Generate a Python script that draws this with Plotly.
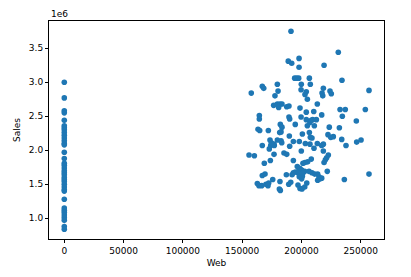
import plotly.graph_objects as go

# Points with Web == 0 (Sales in units of 1e6)
zero_sales = [3.0, 2.77, 2.58, 2.55, 2.44, 2.36, 2.33, 2.3, 2.26, 2.22, 2.18, 2.14,
              2.1, 2.08, 1.97, 1.88, 1.81, 1.78, 1.74, 1.7, 1.67, 1.64, 1.6, 1.57,
              1.54, 1.5, 1.46, 1.42, 1.4, 1.28, 1.15, 1.12, 1.09, 1.05, 1.01, 0.97,
              0.88, 0.84]

# Cluster points: Web (thousands) and Sales (1e6)
web_k = [191.2, 231.1, 188.9, 191.8, 198.0, 198.0, 219.1, 194.3, 196.0, 197.7, 206.7,
         199.9, 207.5, 234.2, 179.7, 218.5, 199.7, 204.1, 203.0, 205.0, 217.4, 218.0,
         224.1, 225.2, 257.0, 180.3, 177.7, 179.7, 181.9, 183.6, 187.6, 189.5, 213.4,
         198.8, 204.1, 210.4, 232.6, 237.0, 253.9, 234.5, 189.5, 190.1, 199.7, 217.1,
         204.1, 207.2, 208.3, 209.5, 212.6, 205.0, 210.9, 194.8, 182.2, 183.6, 182.8,
         246.3, 223.5, 232.0, 206.7, 207.5, 208.9, 200.8, 222.4, 224.7, 226.9, 189.8,
         234.0, 246.6, 250.3, 237.6, 173.5, 179.7, 182.8, 183.4, 193.2, 198.2, 203.3,
         207.2, 210.6, 213.4, 217.1, 218.5, 190.1, 174.1, 177.1, 199.9, 218.5, 185.3,
         187.6, 176.9, 222.7, 221.3, 220.2, 219.1, 173.8, 193.2, 208.3, 205.3, 203.0,
         201.3, 196.5, 197.7, 198.8, 200.2, 202.8, 197.1, 194.8, 193.2, 192.1, 221.8,
         206.4, 208.9, 211.2, 213.7, 214.8, 213.7, 215.7, 217.1, 187.3, 257.0, 236.2,
         175.8, 181.9, 189.3, 191.0, 198.2, 200.2, 200.8, 201.1, 197.1, 198.8, 200.5,
         202.8, 204.5, 182.2, 181.4, 157.7, 167.0, 168.2, 176.6, 180.8, 164.5, 164.5,
         163.4, 164.8, 172.1, 181.7, 174.6, 176.9, 172.9, 167.0, 155.8, 160.3, 168.7,
         167.0, 169.3, 162.8, 164.2, 166.5, 170.1, 171.8, 172.4]
sales_m = [3.75, 3.44, 3.31, 3.28, 3.35, 3.22, 3.25, 3.06, 3.06, 3.06, 3.06,
           2.97, 2.97, 3.03, 2.97, 2.91, 2.89, 2.86, 2.82, 2.75, 2.84, 2.80,
           2.87, 2.83, 2.88, 2.87, 2.80, 2.68, 2.68, 2.68, 2.64, 2.65, 2.68,
           2.62, 2.56, 2.57, 2.60, 2.60, 2.60, 2.50, 2.49, 2.46, 2.49, 2.52,
           2.45, 2.41, 2.44, 2.45, 2.45, 2.36, 2.36, 2.38, 2.38, 2.34, 2.27,
           2.43, 2.34, 2.33, 2.26, 2.19, 2.18, 2.24, 2.23, 2.19, 2.20, 2.21,
           2.16, 2.12, 2.15, 2.07, 2.15, 2.15, 2.14, 2.11, 2.13, 2.13, 2.10,
           2.09, 2.03, 2.10, 2.07, 2.09, 2.06, 2.07, 2.07, 1.99, 1.99, 1.96,
           1.94, 1.94, 1.93, 1.89, 1.86, 1.82, 1.85, 1.85, 1.87, 1.83, 1.82,
           1.81, 1.76, 1.74, 1.73, 1.71, 1.69, 1.67, 1.68, 1.67, 1.64, 1.69,
           1.69, 1.67, 1.65, 1.65, 1.61, 1.56, 1.58, 1.59, 1.64, 1.65, 1.57,
           1.57, 1.54, 1.50, 1.53, 1.61, 1.58, 1.62, 1.66, 1.49, 1.44, 1.43,
           1.46, 1.52, 1.41, 1.43, 2.84, 2.94, 2.91, 2.66, 2.63, 2.51, 2.46,
           2.31, 2.29, 2.29, 2.26, 2.11, 2.09, 2.02, 2.07, 1.93, 1.92, 1.81,
           1.63, 1.65, 1.51, 1.48, 1.48, 1.50, 1.48, 1.52]

x_ticks = [0, 50000, 100000, 150000, 200000, 250000]
y_ticks = [1.0, 1.5, 2.0, 2.5, 3.0, 3.5]

web = [0] * len(zero_sales) + [w * 1000 for w in web_k]
sales = [s * 1e6 for s in zero_sales] + [s * 1e6 for s in sales_m]

fig = go.Figure(go.Scatter(
    x=web, y=sales, mode="markers",
    marker=dict(color="#1f77b4", size=5.6, line=dict(width=0)),
    hoverinfo="skip",
))

font = dict(family="DejaVu Sans", size=9, color="#000000")
axis_common = dict(
    showgrid=False, zeroline=False, showline=True, linecolor="#000000",
    linewidth=1, mirror=True, ticks="outside", ticklen=3, tickwidth=1,
    tickcolor="#000000", tickfont=font,
)

fig.update_layout(
    width=411, height=277,
    margin=dict(l=49, r=27, t=21, b=38),
    paper_bgcolor="white", plot_bgcolor="white",
    showlegend=False, font=font,
    xaxis=dict(range=[-12900, 269650], tickvals=x_ticks,
               ticktext=[str(v) for v in x_ticks],
               title=dict(text="Web", font=font, standoff=4), **axis_common),
    yaxis=dict(range=[0.696e6, 3.90e6], tickvals=[v * 1e6 for v in y_ticks],
               ticktext=[f"{v:.1f}" for v in y_ticks],
               title=dict(text="Sales", font=font, standoff=6), **axis_common),
    annotations=[dict(text="1e6", xref="paper", yref="paper", x=0, y=1,
                      xanchor="left", yanchor="bottom", showarrow=False,
                      font=font, yshift=0)],
)

fig.write_html("out.html")
